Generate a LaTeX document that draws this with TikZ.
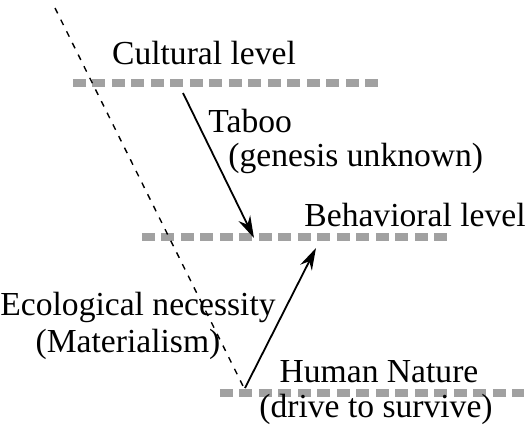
\documentclass[tikz,border=0pt]{standalone}
\usepackage{fontspec}
\setmainfont{Liberation Serif}
\usetikzlibrary{arrows.meta}
\begin{document}
\begin{tikzpicture}[x=0.5pt,y=-0.5pt,
  level/.style={draw=black!37,line width=4pt,dash pattern=on 6.5pt off 3.25pt},
  guide/.style={draw=black,line width=0.7pt,dash pattern=on 3pt off 3.5pt},
  cause/.style={draw=black,line width=0.9pt,-{Stealth[length=11pt,width=6.5pt]}},
  lbl/.style={inner sep=0pt,font=\fontsize{16.8}{20}\selectfont}]
\useasboundingbox (0,0) rectangle (532,425);
% level lines
\coordinate (c1) at (73,83);  \coordinate (c2) at (385,83);
\coordinate (b1) at (142,237); \coordinate (b2) at (452,237);
\coordinate (h1) at (220,393); \coordinate (h2) at (524,393);
\draw[level] (c1) -- (c2);
\draw[level] (b1) -- (b2);
\draw[level] (h1) -- (h2);
% dashed guide
\coordinate (g1) at (55,8); \coordinate (g2) at (245,390);
\draw[guide] (g1) -- (g2);
% arrows
\coordinate (t1) at (183,93);  \coordinate (t2) at (254,238);
\coordinate (e1) at (245,388); \coordinate (e2) at (316,248);
\draw[cause] (t1) -- (t2);
\draw[cause] (e1) -- (e2);
% labels
\node[lbl] (cult) at (204,53) {Cultural level};
\node[lbl,anchor=west] (taboo) at (208,121) {Taboo};
\node[lbl,anchor=west] (gen) at (228,158) {(genesis unknown)};
\node[lbl] (beh) at (415,215) {Behavioral level};
\node[lbl] (eco) at (138,307) {Ecological necessity};
\node[lbl] (mat) at (128,344) {(Materialism)};
\node[lbl] (hum) at (379,372) {Human Nature};
\node[lbl] (drive) at (376,409) {(drive to survive)};
\end{tikzpicture}
\end{document}
